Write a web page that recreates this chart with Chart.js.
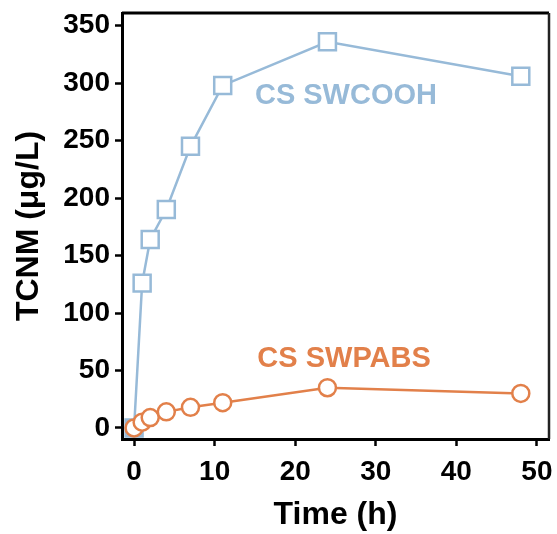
<!DOCTYPE html>
<html>
<head>
<meta charset="utf-8">
<script src="https://cdn.jsdelivr.net/npm/chart.js@4.4.0/dist/chart.umd.min.js"></script>
<style>
  html, body { margin: 0; padding: 0; background: #fff; }
  #wrap { width: 557px; height: 534px; }
</style>
</head>
<body>
<div id="wrap"><canvas id="chart"></canvas></div>
<script>
// sampling times (h)
const timeH = [0, 1, 2, 4, 7, 11, 24, 48];
// TCNM, ug/L
const swcooh = [0, 126, 164, 190, 245, 298, 336, 306];
const swpabs = [0, 5, 9, 14, 18, 22, 35, 30];

const xTicks = [0, 10, 20, 30, 40, 50];
const yTicks = [0, 50, 100, 150, 200, 250, 300, 350];

const BLUE = '#97bad8';
const ORANGE = '#e2804a';
const FONT = '"Liberation Sans", Arial, sans-serif';

const pts = ys => timeH.map((t, i) => ({x: t, y: ys[i]}));

// series names written inside the plot, next to the curves
const seriesLabels = [
  {text: 'CS SWCOOH', x: 15.0, y: 289, color: BLUE},
  {text: 'CS SWPABS', x: 15.3, y: 60, color: ORANGE}
];

const frameAndLabels = {
  id: 'frameAndLabels',
  afterDatasetsDraw(c) {
    const {ctx, chartArea: a, scales} = c;
    ctx.save();
    ctx.font = 'bold 29px ' + FONT;
    ctx.textBaseline = 'middle';
    ctx.textAlign = 'left';
    seriesLabels.forEach(l => {
      ctx.fillStyle = l.color;
      ctx.fillText(l.text, scales.x.getPixelForValue(l.x), scales.y.getPixelForValue(l.y));
    });
    ctx.strokeStyle = '#000';
    ctx.lineWidth = 3;
    ctx.beginPath();
    ctx.moveTo(a.left, a.top);
    ctx.lineTo(a.right, a.top);
    ctx.stroke();
    ctx.lineWidth = 2.5;
    ctx.strokeStyle = '#222';
    ctx.beginPath();
    ctx.moveTo(a.right, a.top);
    ctx.lineTo(a.right, a.bottom);
    ctx.stroke();
    ctx.restore();
  }
};

new Chart(document.getElementById('chart'), {
  type: 'line',
  data: {
    datasets: [
      {
        data: pts(swpabs),
        borderColor: ORANGE, borderWidth: 2.5,
        pointStyle: 'circle', pointRadius: 8.5, pointBorderWidth: 2.5,
        pointBackgroundColor: '#fff', pointBorderColor: ORANGE
      },
      {
        data: pts(swcooh),
        borderColor: BLUE, borderWidth: 2.5,
        pointStyle: 'rect', pointRadius: 12, pointBorderWidth: 2.5,
        pointBackgroundColor: ['#a9c5de', '#fff', '#fff', '#fff', '#fff', '#fff', '#fff', '#fff'],
        pointBorderColor: BLUE
      }
    ]
  },
  options: {
    responsive: true,
    maintainAspectRatio: false,
    animation: false,
    layout: {autoPadding: false, padding: {top: 13, right: 8, left: 0, bottom: 0}},
    plugins: {legend: {display: false}, tooltip: {enabled: false}},
    scales: {
      x: {
        type: 'linear', min: -1.5, max: 51.5,
        afterBuildTicks: s => { s.ticks = xTicks.map(v => ({value: v})); },
        afterFit: s => { s.height = 95; s.paddingLeft = 0; s.paddingRight = 0; },
        border: {color: '#000', width: 3},
        grid: {drawOnChartArea: false, color: '#000', tickLength: 7, tickWidth: 2.5},
        ticks: {color: '#000', font: {family: FONT, size: 28, weight: 'bold'}, padding: 9, maxRotation: 0},
        title: {display: true, text: 'Time (h)', color: '#000',
                font: {family: FONT, size: 32, weight: 'bold'}, padding: {top: 4, bottom: 0}}
      },
      y: {
        type: 'linear', min: -9.6, max: 361,
        afterBuildTicks: s => { s.ticks = yTicks.map(v => ({value: v})); },
        afterFit: s => { s.width = 122; s.paddingTop = 0; s.paddingBottom = 0; },
        border: {color: '#000', width: 3},
        grid: {drawOnChartArea: false, color: '#000', tickLength: 7, tickWidth: 2.5},
        ticks: {color: '#000', font: {family: FONT, size: 28, weight: 'bold'}, padding: 5},
        title: {display: true, text: 'TCNM (μg/L)', color: '#000',
                font: {family: FONT, size: 32, weight: 'bold'}, padding: {top: 10, bottom: 0}}
      }
    }
  },
  plugins: [frameAndLabels]
});
</script>
</body>
</html>
